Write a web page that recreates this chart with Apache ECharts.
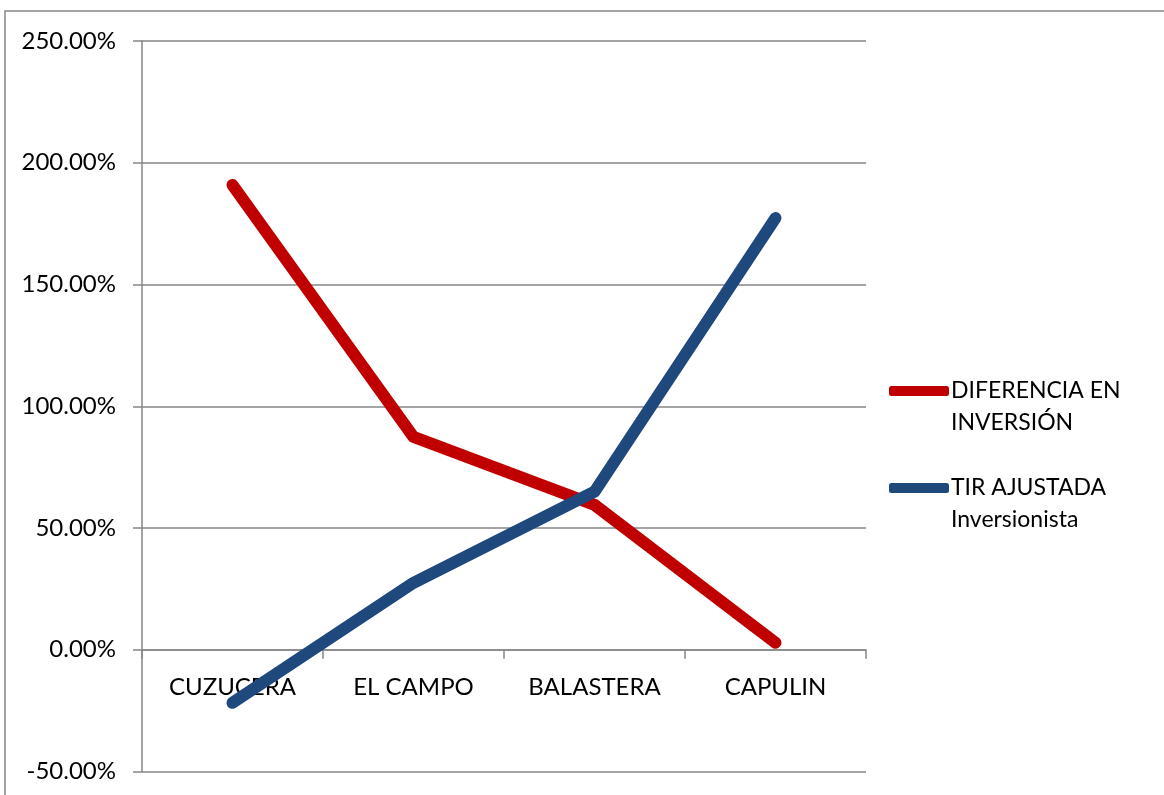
<!DOCTYPE html>
<html>
<head>
<meta charset="utf-8">
<title>Diferencia en inversión vs TIR ajustada</title>
<script src="https://cdn.jsdelivr.net/npm/echarts@6/dist/echarts.min.js"></script>
<style>
  html, body { margin: 0; padding: 0; background: #ffffff; }
  #chart { width: 1164px; height: 795px; }
</style>
</head>
<body>
<div id="chart"></div>
<script>
// Projects along the horizontal axis
const categories = ['CUZUCERA', 'EL CAMPO', 'BALASTERA', 'CAPULIN'];

// Series values as fractions (1 = 100%)
const diferenciaInversion = [1.909, 0.874, 0.595, 0.029];
const tirAjustada = [-0.218, 0.275, 0.649, 1.773];

// Legend labels (line-broken as shown beside the plot)
const seriesNames = ['DIFERENCIA EN\nINVERSIÓN', 'TIR AJUSTADA\nInversionista'];
const seriesColors = ['#C00000', '#1F497D'];

// Value axis range and step
const yMin = -0.5, yMax = 2.5, yStep = 0.5;

const FONT = 'Lato, "Open Sans", sans-serif';
const AXIS_GRAY = '#868686';

// Plot box
const GRID_TOP = 41, GRID_HEIGHT = 730.5;
// Category axis sits on the zero line: shift it up from the grid bottom
const zeroOffset = -GRID_HEIGHT * (0 - yMin) / (yMax - yMin);

const chart = echarts.init(document.getElementById('chart'), null, { renderer: 'canvas' });

chart.setOption({
  backgroundColor: '#ffffff',
  animation: false,
  textStyle: { fontFamily: FONT },
  graphic: [{
    type: 'rect',
    shape: { x: 5, y: 11, width: 1300, height: 900 },
    style: { fill: 'none', stroke: AXIS_GRAY, lineWidth: 1.5 },
    silent: true,
    z: -1
  }],
  grid: {
    left: 142, top: GRID_TOP, width: 724, height: GRID_HEIGHT,
    containLabel: false,
    outerBoundsMode: 'none'
  },
  legend: {
    orient: 'vertical',
    left: 889,
    top: 343,
    padding: 0,
    itemGap: 1,
    itemWidth: 60,
    itemHeight: 10,
    icon: 'roundRect',
    data: seriesNames,
    // leading blank line keeps the first text line level with the swatch
    formatter: name => '\n' + name,
    textStyle: {
      fontFamily: FONT,
      fontSize: 23,
      color: '#000000',
      lineHeight: 32,
      padding: [0, 0, 0, -3]
    }
  },
  xAxis: {
    type: 'category',
    data: categories,
    boundaryGap: true,
    offset: zeroOffset,
    axisLine: { onZero: false, lineStyle: { color: AXIS_GRAY, width: 1.5 } },
    axisTick: { show: true, length: 9, inside: false, alignWithLabel: false, lineStyle: { color: AXIS_GRAY, width: 1.5 } },
    axisLabel: { fontFamily: FONT, fontSize: 24, color: '#000000', margin: 26 },
    splitLine: { show: false }
  },
  yAxis: {
    type: 'value',
    min: yMin,
    max: yMax,
    interval: yStep,
    axisLine: { show: true, lineStyle: { color: AXIS_GRAY, width: 1.5 } },
    axisTick: { show: true, length: 9, inside: false, lineStyle: { color: AXIS_GRAY, width: 1.5 } },
    axisLabel: {
      fontFamily: FONT,
      fontSize: 24,
      color: '#000000',
      margin: 26,
      formatter: v => (v * 100).toFixed(2) + '%'
    },
    splitLine: { show: true, lineStyle: { color: AXIS_GRAY, width: 1.5 } }
  },
  series: [
    {
      name: seriesNames[0],
      type: 'line',
      data: diferenciaInversion,
      symbol: 'none',
      showSymbol: false,
      color: seriesColors[0],
      lineStyle: { color: seriesColors[0], width: 12, cap: 'round', join: 'round' },
      z: 3
    },
    {
      name: seriesNames[1],
      type: 'line',
      data: tirAjustada,
      symbol: 'none',
      showSymbol: false,
      color: seriesColors[1],
      lineStyle: { color: seriesColors[1], width: 12, cap: 'round', join: 'round' },
      z: 4
    }
  ]
});
</script>
</body>
</html>
